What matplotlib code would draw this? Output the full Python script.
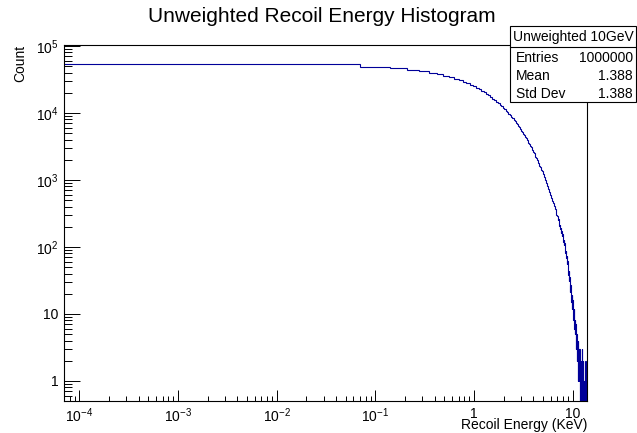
import numpy as np
import matplotlib
matplotlib.use("Agg")
import matplotlib.pyplot as plt
from matplotlib.patches import Rectangle
from matplotlib.lines import Line2D
from matplotlib.ticker import FixedLocator, FixedFormatter, LogLocator, NullFormatter

plt.rcParams['font.family'] = ['Liberation Sans', 'DejaVu Sans']
plt.rcParams['mathtext.fontset'] = 'custom'
plt.rcParams['mathtext.rm'] = 'Liberation Sans'
plt.rcParams['mathtext.it'] = 'Liberation Sans:italic'

# histogram: 200 bins of 0.07 keV between 0 and 14 keV
e_lo = 0.0
e_hi = 14.0
n_bins = 200
counts = [
    53500, 49350, 46830, 44440, 42170, 40020, 37980, 36050, 34210, 32460,
    30790, 29220, 27730, 26320, 24970, 23700, 22490, 21350, 20260, 19220,
    18240, 17310, 16420, 15590, 14790, 14040, 13320, 12640, 12000, 11390,
    10800, 10249, 9726, 9230, 8759, 8313, 7888, 7487, 7104, 6742,
    6396, 6070, 5760, 5466, 5187, 4923, 4672, 4434, 4207, 3993,
    3801, 3578, 3420, 3229, 3085, 2902, 2779, 2611, 2503, 2352,
    2231, 2150, 2008, 1930, 1806, 1741, 1622, 1569, 1462, 1413,
    1341, 1247, 1210, 1118, 1089, 1008, 981, 905, 886, 817,
    801, 731, 722, 659, 651, 589, 584, 531, 529, 478,
    452, 459, 407, 411, 366, 371, 328, 334, 297, 303,
    289, 251, 259, 224, 235, 203, 211, 183, 189, 164,
    171, 146, 155, 131, 141, 118, 127, 106, 114, 97,
    101, 82, 86, 69, 72, 55, 61, 47, 51, 38,
    44, 31, 36, 26, 31, 21, 27, 17, 22, 15,
    19, 12, 16, 9, 13, 8, 12, 7, 10, 6,
    8, 5, 7, 4, 6, 3, 5, 4, 2, 5,
    3, 2, 4, 1, 3, 2, 1, 3, 0, 2,
    1, 2, 1, 0, 2, 1, 0, 1, 3, 0,
    1, 1, 0, 2, 0, 1, 0, 1, 1, 0,
    0, 1, 0, 2, 0, 0, 1, 0, 1, 0,
]

stats_name = "Unweighted 10GeV"
stats_rows = [("Entries", "1000000"), ("Mean", "1.388"), ("Std Dev", "1.388")]

xticks = [1e-4, 1e-3, 1e-2, 1e-1, 1, 10]
xticklabels = [r'$10^{-4}$', r'$10^{-3}$', r'$10^{-2}$', r'$10^{-1}$', '1', '10']
yticks = [1, 10, 100, 1e3, 1e4, 1e5]
yticklabels = ['1', '10', r'$10^{2}$', r'$10^{3}$', r'$10^{4}$', r'$10^{5}$']

W, H = 637, 433
fig = plt.figure(figsize=(W / 100, H / 100), dpi=100)
ax = fig.add_axes([64 / W, 1 - 401 / H, (587 - 64) / W, (401 - 45) / H])

edges = np.linspace(e_lo, e_hi, n_bins + 1)
ax.set_xscale('log')
ax.set_yscale('log')
ax.stairs(counts, edges, baseline=None, color='#000099', lw=0.8)

ax.set_xlim(7e-5, 14)
ax.set_ylim(0.5, 1.035e5)

ax.xaxis.set_major_locator(FixedLocator(xticks))
ax.xaxis.set_major_formatter(FixedFormatter(xticklabels))
ax.xaxis.set_minor_locator(LogLocator(base=10, subs=np.arange(2, 10)))
ax.xaxis.set_minor_formatter(NullFormatter())
ax.yaxis.set_major_locator(FixedLocator(yticks))
ax.yaxis.set_major_formatter(FixedFormatter(yticklabels))
ax.yaxis.set_minor_locator(LogLocator(base=10, subs=np.arange(2, 10)))
ax.yaxis.set_minor_formatter(NullFormatter())

ax.tick_params(axis='x', which='major', direction='in', length=7.7, width=0.7,
               labelsize=10, pad=4, top=False)
ax.tick_params(axis='x', which='minor', direction='in', length=3.9, width=0.7, top=False)
ax.tick_params(axis='y', which='major', direction='in', length=11.3, width=0.7,
               labelsize=10, pad=4, right=False)
ax.tick_params(axis='y', which='minor', direction='in', length=5.6, width=0.7, right=False)
for s in ax.spines.values():
    s.set_linewidth(0.8)

fig.text(322 / W, 1 - 17 / H, "Unweighted Recoil Energy Histogram",
         ha='center', va='center', fontsize=15)
fig.text(587 / W, 1 - 425 / H, "Recoil Energy (KeV)", ha='right', va='center', fontsize=10)
fig.text(20 / W, 1 - 45 / H, "Count", ha='center', va='top', rotation=90, fontsize=10)

# statistics box
bx0, bx1, by0, by1 = 510, 636, 26, 102
fig.add_artist(Rectangle((bx0 / W, 1 - by1 / H), (bx1 - bx0) / W, (by1 - by0) / H,
                         transform=fig.transFigure, facecolor='white',
                         edgecolor='black', lw=0.8, zorder=5))
fig.add_artist(Line2D([bx0 / W, bx1 / W], [1 - 46.7 / H, 1 - 46.7 / H],
                      transform=fig.transFigure, color='black', lw=0.8, zorder=6))
fig.text(573 / W, 1 - 37 / H, stats_name, ha='center', va='center', fontsize=10, zorder=7)
for k, (name, val) in enumerate(stats_rows):
    yy = 1 - (58 + 18 * k) / H
    fig.text(516 / W, yy, name, ha='left', va='center', fontsize=10, zorder=7)
    fig.text(633 / W, yy, val, ha='right', va='center', fontsize=10, zorder=7)

fig.savefig("out.png", dpi=100)
